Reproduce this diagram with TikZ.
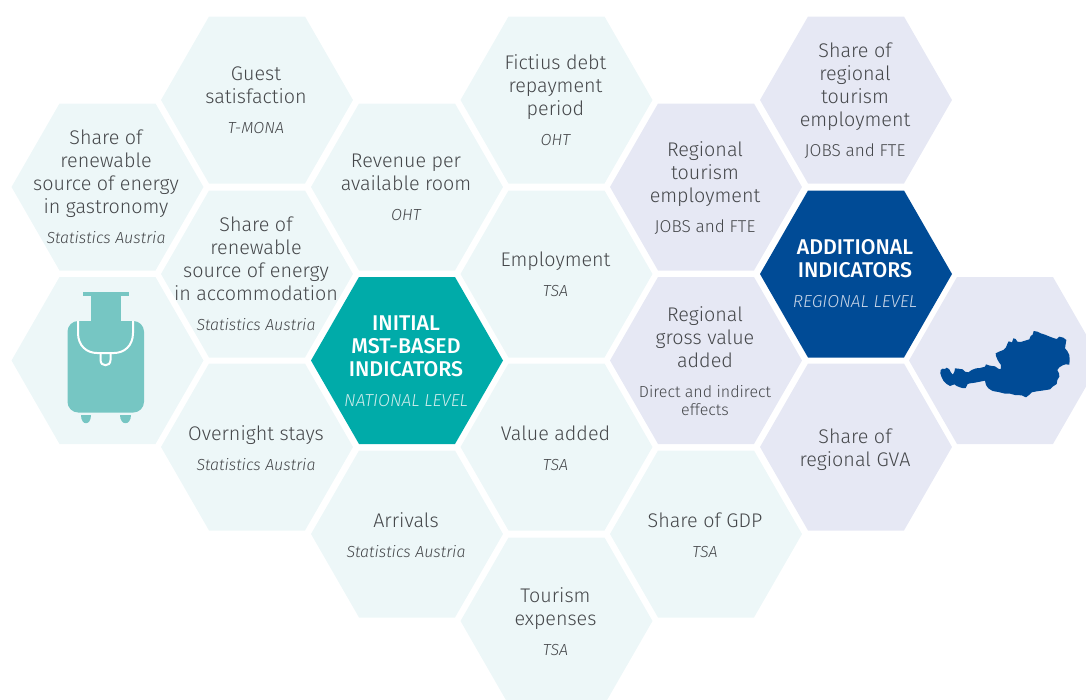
\documentclass[tikz,border=0pt]{standalone}
\usepackage{fontspec}
\setmainfont{Fira Sans}[UprightFont=* Light,ItalicFont=* Light Italic,BoldFont=* Medium]
\definecolor{hexteal}{HTML}{EDF7F8}
\definecolor{hexlav}{HTML}{E6E8F4}
\definecolor{hexmain}{HTML}{00ABA9}
\definecolor{hexblue}{HTML}{004B96}
\definecolor{bagcol}{HTML}{76C6C3}
\definecolor{txtgray}{HTML}{45474A}
\definecolor{subteal}{HTML}{CFEDEC}
\definecolor{subblue}{HTML}{C9D6E8}
\newcommand{\hexcell}[3]{\fill[#3] (#1-96,#2) -- (#1-48,#2-83.5) -- (#1+48,#2-83.5) -- (#1+96,#2) -- (#1+48,#2+83.5) -- (#1-48,#2+83.5) -- cycle;}
\tikzset{
  x=0.75pt,y=-0.75pt,
  lbl/.style={inner sep=0pt,align=center,text=txtgray,font=\fontsize{14.8}{17.25}\selectfont,execute at begin node=\strut,execute at end node=\strut},
  src/.style={inner sep=0pt,yshift=-0.7pt,align=center,text=txtgray,font=\fontsize{12}{13.5}\selectfont\itshape,execute at begin node=\strut,execute at end node=\strut},
  srcup/.style={src,font=\fontsize{12}{13.5}\selectfont},
  srccaps/.style={src,font=\fontsize{12.9}{13.5}\selectfont},
  headl/.style={lbl,text=white,font=\fontsize{16}{17.25}\selectfont\bfseries},
  headsub/.style={src,font=\fontsize{13}{13.5}\selectfont\itshape}
}
\begin{document}
\begin{tikzpicture}
\useasboundingbox (0,0) rectangle (1086,700);
\clip (0,0) rectangle (1086,700);
% teal cells
\hexcell{107.5}{187}{hexteal}
\hexcell{107.5}{360.5}{hexteal}
\hexcell{257}{100}{hexteal}
\hexcell{257}{274}{hexteal}
\hexcell{257}{447}{hexteal}
\hexcell{407}{187}{hexteal}
\hexcell{407}{534}{hexteal}
\hexcell{556.5}{100}{hexteal}
\hexcell{556.5}{274}{hexteal}
\hexcell{556.5}{447}{hexteal}
\hexcell{556.5}{621}{hexteal}
\hexcell{706}{534}{hexteal}
% lavender cells
\hexcell{706}{187}{hexlav}
\hexcell{706}{360.5}{hexlav}
\hexcell{856}{100}{hexlav}
\hexcell{856}{447}{hexlav}
\hexcell{1005}{360.5}{hexlav}
% highlighted cells
\hexcell{407}{360.5}{hexmain}
\hexcell{856}{274}{hexblue}
% suitcase
\fill[bagcol] (83,292) rectangle (128.5,296);
\fill[bagcol] (91,296) rectangle (120.5,321);
\fill[bagcol,rounded corners=8pt] (67.5,321) rectangle (144,412.5);
\draw[white,line width=1.5pt] (78,321) -- (78,333) .. controls (78,346) and (87,353) .. (97,353) -- (114,353) .. controls (124,353) and (133,346) .. (133,333) -- (133,321);
\draw[white,line width=1.5pt] (100.5,354) -- (100.5,360) .. controls (100.5,367) and (110.5,367) .. (110.5,360) -- (110.5,354);
\fill[bagcol] (80.5,415) -- (91,415) .. controls (91,425.5) and (80.5,425.5) .. (80.5,415) -- cycle;
\fill[bagcol] (120,415) -- (130.5,415) .. controls (130.5,425.5) and (120,425.5) .. (120,415) -- cycle;
% Austria
\fill[hexblue,shift={(900,270)},x=0.25pt,y=-0.25pt] (122,300) -- (128,296) -- (135,297) -- (140,293) -- (148,298) -- (152,306) -- (158,314) -- (163,306) -- (165,295) -- (175,296) -- (188,298) -- (195,305) -- (205,307) -- (215,300) -- (228,295) -- (240,294) -- (255,290) -- (258,283) -- (270,287) -- (285,289) -- (295,296) -- (302,298) -- (303,285) -- (297,277) -- (292,268) -- (288,258) -- (287,250) -- (297,245) -- (310,240) -- (318,232) -- (322,222) -- (326,214) -- (336,217) -- (340,205) -- (347,207) -- (352,215) -- (362,216) -- (375,212) -- (388,208) -- (392,198) -- (398,194) -- (401,183) -- (412,185) -- (422,190) -- (435,194) -- (447,199) -- (460,204) -- (470,207) -- (478,200) -- (490,203) -- (499,210) -- (497,222) -- (495,235) -- (502,243) -- (508,255) -- (509,270) -- (508,284) -- (497,283) -- (488,286) -- (478,292) -- (472,300) -- (477,310) -- (478,320) -- (472,330) -- (470,342) -- (458,350) -- (450,358) -- (438,360) -- (425,362) -- (410,364) -- (395,367) -- (387,375) -- (378,382) -- (365,376) -- (345,375) -- (330,371) -- (315,371) -- (295,366) -- (278,363) -- (265,355) -- (258,345) -- (255,332) -- (240,335) -- (225,338) -- (210,340) -- (203,342) -- (197,354) -- (187,354) -- (180,352) -- (170,348) -- (163,343) -- (150,348) -- (140,342) -- (130,332) -- (125,322) -- (121,310) -- cycle;
% labels
\node[lbl] (a1) at (106,175) {Share of\\renewable\\source of energy\\in gastronomy};
\node[src] (a1s) at (106,239) {Statistics Austria};
\node[lbl] (b1) at (256,88.5) {Guest\\satisfaction};
\node[src] (b1s) at (256,129) {T-MONA};
\node[lbl] (b2) at (256,262) {Share of\\renewable\\source of energy\\in accommodation};
\node[src] (b2s) at (256,326) {Statistics Austria};
\node[lbl] (b3) at (256,436) {Overnight stays};
\node[src] (b3s) at (256,466) {Statistics Austria};
\node[lbl] (c1) at (406,175.5) {Revenue per\\available room};
\node[src] (c1s) at (406,216) {OHT};
\node[headl] (c2) at (406,349.5) {INITIAL\\MST-BASED\\INDICATORS};
\node[headsub,text=subteal] (c2s) at (406,402) {NATIONAL LEVEL};
\node[lbl] (c3) at (406,523) {Arrivals};
\node[src] (c3s) at (406,553) {Statistics Austria};
\node[lbl] (d1) at (555.5,88.5) {Fictius debt\\repayment\\period};
\node[src] (d1s) at (555.5,141) {OHT};
\node[lbl] (d2) at (555.5,262) {Employment};
\node[src] (d2s) at (555.5,292) {TSA};
\node[lbl] (d3) at (555.5,436) {Value added};
\node[src] (d3s) at (555.5,466) {TSA};
\node[lbl] (d4) at (555.5,610) {Tourism\\expenses};
\node[src] (d4s) at (555.5,651) {TSA};
\node[lbl] (e1) at (705,175.5) {Regional\\tourism\\employment};
\node[srccaps] (e1s) at (705,228) {JOBS and FTE};
\node[lbl] (e2) at (705,340.5) {Regional\\gross value\\added};
\node[srcup] (e2s) at (705,402) {Direct and indirect\\effects};
\node[lbl] (e3) at (705,523) {Share of GDP};
\node[src] (e3s) at (705,553) {TSA};
\node[lbl] (f1) at (855,88) {Share of\\regional\\tourism\\employment};
\node[srccaps] (f1s) at (855,152) {JOBS and FTE};
\node[headl] (f2) at (855,262) {ADDITIONAL\\INDICATORS};
\node[headsub,text=subblue] (f2s) at (855,303) {REGIONAL LEVEL};
\node[lbl] (f3) at (855,451) {Share of\\regional GVA};
\end{tikzpicture}
\end{document}
